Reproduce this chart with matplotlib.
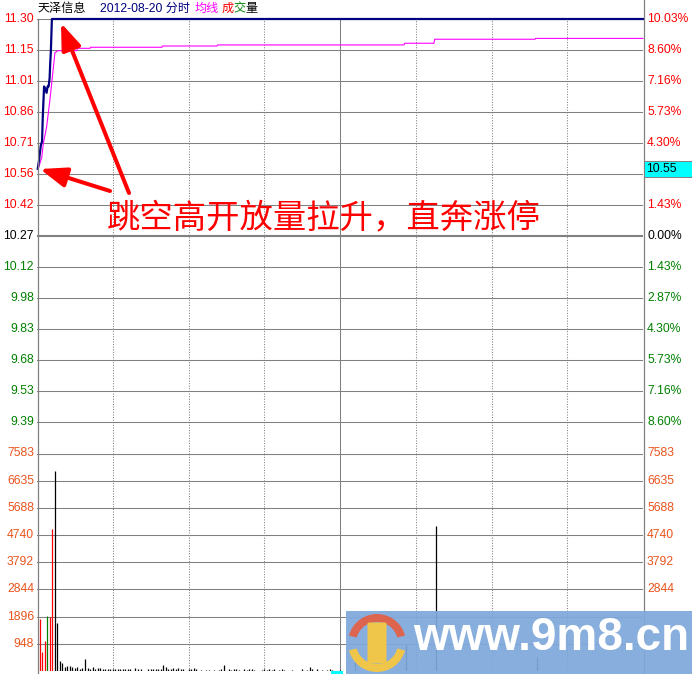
import numpy as np
import matplotlib.pyplot as plt
from matplotlib.patches import Rectangle, FancyArrowPatch, Wedge, FancyBboxPatch

plt.rcParams['font.family'] = ['Liberation Sans', 'Noto Sans CJK SC']

# price scale: yesterday close 10.27, limit up 11.30
prev_close = 10.27
limit_up = 11.30
price_labels = ['11.30', '11.15', '11.01', '10.86', '10.71', '10.56', '10.42', '10.27',
                '10.12', '9.98', '9.83', '9.68', '9.53', '9.39']
# right side (the 2.87% above the close sits under the 10.55 box, so left empty)
pct_labels = ['10.03%', '8.60%', '7.16%', '5.73%', '4.30%', '', '1.43%', '0.00%',
              '1.43%', '2.87%', '4.30%', '5.73%', '7.16%', '8.60%']
vol_max = 7583
vol_labels = ['7583', '6635', '5688', '4740', '3792', '2844', '1896', '948']

# minute price line (minutes after 9:30)
price_t = [0.3, 0.8, 1.5, 2.0, 2.3, 2.8, 3.2, 3.8, 4.2, 4.6, 5.0, 5.2, 5.5, 5.9, 240]
price_p = [10.59, 10.63, 10.70, 10.72, 10.84, 10.98, 10.97, 10.95, 10.98, 10.98,
           11.02, 11.08, 11.15, 11.30, 11.30]

# average price line
avg_t = [0.5, 1.9, 2.5, 3.8, 5.1, 6.5, 7.1, 8.3, 15.8, 16.0, 21.0, 21.2, 49.5, 49.7,
         71.3, 71.5, 145.3, 145.6, 157.2, 157.5, 197.2, 197.5, 240]
avg_p = [10.59, 10.645, 10.71, 10.787, 10.915, 11.072, 11.14, 11.15, 11.15, 11.161,
         11.161, 11.166, 11.166, 11.172, 11.172, 11.177, 11.177, 11.185, 11.185, 11.204,
         11.204, 11.208, 11.208]

# volume per minute (minute index, lots)
vol_min = [0, 1, 2, 3, 4, 5, 6, 7, 8, 9, 10, 11, 12, 13, 14, 15, 16, 17, 18, 19, 20,
           21, 22, 23, 24, 25, 26, 27, 28, 29, 30, 31, 32, 33, 34, 35, 36, 38, 39, 40,
           43, 44, 45, 46, 47, 48, 49, 50, 51, 52, 53, 54, 55, 56, 57, 59, 60, 61, 62,
           64, 66, 67, 69, 71, 72, 73, 75, 76, 77, 78, 79, 81, 82, 83, 84, 85, 88, 89,
           90, 91, 92, 93, 95, 96, 97, 100, 104, 106, 107, 108, 110, 112, 114, 115, 116,
           119, 125, 145, 157, 197]
vol_val = [1817, 674, 1048, 1922, 1898, 4962, 6964, 1688, 350, 290, 150, 175, 185, 140,
           105, 150, 60, 115, 430, 90, 70, 150, 60, 115, 115, 60, 60, 60, 80, 60, 80, 60,
           60, 80, 60, 80, 60, 115, 60, 80, 60, 80, 60, 60, 80, 60, 220, 150, 80, 60, 115,
           60, 90, 60, 60, 80, 60, 115, 60, 35, 35, 35, 35, 35, 60, 210, 80, 35, 60, 80,
           35, 60, 35, 60, 80, 35, 35, 60, 35, 60, 35, 60, 35, 60, 35, 35, 60, 35, 140,
           60, 60, 35, 35, 60, 35, 35, 300, 900, 5060, 500]
# direction of the first bars: 1 up, -1 down, 0 flat
open_dir = [1, 1, 1, -1, 1, 1, 0, 0]

RED = '#FF0000'
GREEN = '#008000'
NAVY = '#000080'
ORANGE = '#E8541C'
GRID = '#808080'
FS = 8.7

W, H = 692, 674
fig = plt.figure(figsize=(W / 100, H / 100), dpi=100)
fig.patch.set_facecolor('white')

step = (limit_up - prev_close) / 7
levels = [prev_close + step * (7 - k) for k in range(14)]
bottom = prev_close - 7 * step

# price panel
ax_p = fig.add_axes([37 / W, 1 - 453.5 / H, 606 / W, (453.5 - 19) / H])
ax_p.set_xlim(0, 240)
ax_p.set_ylim(bottom, limit_up)
ax_p.axis('off')
for lvl in levels:
    ax_p.axhline(lvl, color=GRID, lw=1.5 if abs(lvl - prev_close) < 1e-6 else 0.75, zorder=1)
for t in [30, 60, 90, 150, 180, 210]:
    ax_p.axvline(t, color=GRID, lw=0.75, ls=(0, (1, 1.5)), zorder=1)
ax_p.axvline(120, color=GRID, lw=0.75, zorder=1)
ax_p.plot(avg_t, avg_p, color='#FF00FF', lw=0.8, zorder=3, clip_on=False)
ax_p.plot(price_t, price_p, color=NAVY, lw=1.6, zorder=4, clip_on=False)

ytr = ax_p.get_yaxis_transform()
for k, lvl in enumerate(levels):
    col = RED if k < 7 else (GREEN if k > 7 else 'black')
    ax_p.text(-3 / 606, lvl, price_labels[k], transform=ytr, ha='right', va='center',
              color=col, fontsize=FS, clip_on=False)
    if pct_labels[k]:
        ax_p.text(1 + 4 / 606, lvl, pct_labels[k], transform=ytr, ha='left', va='center',
                  color=col, fontsize=FS, clip_on=False)

# volume panel
ax_v = fig.add_axes([37 / W, 1 - 671 / H, 606 / W, (671 - 453.5) / H])
ax_v.set_xlim(0, 240)
ax_v.set_ylim(0, vol_max)
ax_v.axis('off')
vol_levels = [vol_max - 948 * k for k in range(8)]
for i, lvl in enumerate(vol_levels):
    ax_v.axhline(lvl, color=GRID, lw=1.5 if i == 0 else 0.75, zorder=1)
ax_v.axhline(0, color=GRID, lw=0.75, zorder=1)
for t in [30, 60, 90, 150, 180, 210]:
    ax_v.axvline(t, color=GRID, lw=0.75, ls=(0, (1, 1.5)), zorder=1)
ax_v.axvline(120, color=GRID, lw=0.75, zorder=1)

colors = []
for i in range(len(vol_min)):
    d = open_dir[i] if i < len(open_dir) else 0
    colors.append(RED if d > 0 else (GREEN if d < 0 else 'black'))
ax_v.vlines(np.array(vol_min) + 1, 0, vol_val, colors=colors, lw=0.9, zorder=3)

ytr_v = ax_v.get_yaxis_transform()
for lvl, lab in zip(vol_levels, vol_labels):
    ax_v.text(-3 / 606, lvl, lab, transform=ytr_v, ha='right', va='center',
              color=ORANGE, fontsize=FS, clip_on=False)
    # right-hand labels below 2844 are hidden by the watermark
    if lvl > 2000:
        ax_v.text(1 + 4 / 606, lvl, lab, transform=ytr_v, ha='left', va='center',
                  color=ORANGE, fontsize=FS, clip_on=False)

# overlay in pixel coordinates: frame lines, header, notes, watermark
ov = fig.add_axes([0, 0, 1, 1], zorder=5)
ov.set_xlim(0, W)
ov.set_ylim(H, 0)
ov.axis('off')
ov.plot([37.5, 37.5], [19, H], color=GRID, lw=0.9, zorder=1)
ov.plot([643.5, 643.5], [0, H], color=GRID, lw=0.9, zorder=1)

ov.text(38, 9, '天泽信息', color='black', fontsize=FS, va='center')
ov.text(100, 9, '2012-08-20 分时', color=NAVY, fontsize=FS, va='center')
ov.text(195, 9, '均线', color='#FF00FF', fontsize=FS, va='center')
ov.text(222, 9, '成', color=RED, fontsize=FS, va='center')
ov.text(233.5, 9, '交', color=GREEN, fontsize=FS, va='center')
ov.text(245, 9, '量', color='black', fontsize=FS, va='center')

# current price box
ov.add_patch(Rectangle((643.5, 161), 48, 16, fc='#00FFFF', ec=GRID, lw=0.7, zorder=3))
ov.text(646, 169.5, '10.55', color='black', fontsize=FS, va='center', zorder=4)
ov.add_patch(Rectangle((331, 671), 12, 3, fc='#00FFFF', ec='none', zorder=3))

# annotation
ov.text(324, 218, '跳空高开放量拉升，直奔涨停', color=RED, fontsize=24,
        ha='center', va='center', family=['Noto Sans CJK SC'], zorder=4)
for tail, tip in [((129, 193), (61, 23)), ((110, 191), (40, 169))]:
    ov.add_patch(FancyArrowPatch(tail, tip, arrowstyle='-|>,head_length=16,head_width=6',
                                 color=RED, lw=2.9, shrinkA=0, shrinkB=0, zorder=4))

# watermark
ov.add_patch(Rectangle((346, 611), 346, 63, fc='#7EA8DA', ec='none', alpha=0.93, zorder=6))
ov.add_patch(Wedge((377, 643), 29, 195, 345, width=8, fc='#DD6550', ec='none', zorder=7))
ov.add_patch(Wedge((377, 643), 29, 15, 165, width=8, fc='#F0C64A', ec='none', zorder=7))
ov.add_patch(FancyBboxPatch((369, 624), 16, 38, boxstyle='round,pad=1.5', fc='#F0C64A',
                            ec='none', zorder=7))
ov.text(413, 650, 'www.9m8.cn', family='Liberation Sans', weight='bold', fontsize=33,
        color='white', ha='left', va='baseline', zorder=8)

fig.savefig('out.png', dpi=100)
